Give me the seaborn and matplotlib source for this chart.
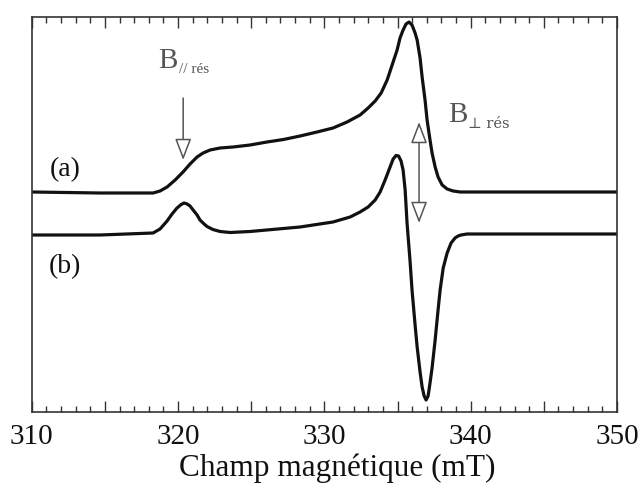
import matplotlib
matplotlib.use("Agg")
import matplotlib.pyplot as plt
import matplotlib.ticker as mticker
import seaborn as sns
import pandas as pd

# ---- data (field in mT, intensity in arbitrary units) ----
field_a = [310.0, 314.67, 317.74, 318.29, 318.77, 319.25, 319.80, 320.34, 320.82, 321.30,
           321.71, 322.19, 322.87, 323.76, 324.92, 326.08, 327.20, 328.34, 329.50, 330.59,
           331.55, 332.44, 332.99, 333.47, 333.88, 334.29, 334.63, 334.97, 335.17, 335.38,
           335.58, 335.79, 335.99, 336.20, 336.34, 336.54, 336.68, 336.88, 337.02, 337.22,
           337.36, 337.57, 337.77, 338.05, 338.39, 338.80, 339.28, 350.0]
signal_a = [220, 219, 219, 219, 221, 225, 232, 240, 248, 255,
            259, 262, 264, 265, 267, 270, 272.5, 276, 280, 284,
            290, 297, 304, 311, 319, 332, 347, 362, 374, 382,
            388, 390, 387, 379, 372, 354, 335, 312, 292, 272,
            259, 245, 235, 227, 223, 221, 220, 220]

field_b = [310.0, 314.67, 318.29, 318.77, 319.25, 319.59, 319.93, 320.21, 320.41, 320.62,
           320.82, 321.03, 321.30, 321.50, 321.78, 321.98, 322.38, 322.87, 323.55, 324.92,
           328.34, 330.59, 331.76, 332.44, 332.99, 333.47, 333.81, 334.15, 334.49, 334.70,
           334.90, 335.07, 335.24, 335.38, 335.52, 335.65, 335.86, 335.99, 336.20, 336.34,
           336.54, 336.68, 336.82, 336.95, 337.09, 337.22, 337.36, 337.57, 337.77, 337.91,
           338.12, 338.39, 338.66, 338.93, 339.14, 339.34, 339.75, 350.0]
signal_b = [177, 177, 179, 183, 191, 198, 204, 207.5, 209, 208,
            206, 202, 197, 192, 188, 185.5, 182.5, 180.5, 179.5, 180.5,
            185, 190, 195, 200, 205, 212, 220, 232, 245, 253,
            256.5, 256, 251, 242, 222, 189, 150, 122, 87, 65,
            40, 25, 16, 12, 16, 29, 44, 72, 102, 122,
            144, 159, 169, 174, 176, 177, 178, 178]

x_ticks = [310, 320, 330, 340, 350]
x_label = "Champ magnétique (mT)"

df_a = pd.DataFrame({"field": field_a, "signal": signal_a})
df_b = pd.DataFrame({"field": field_b, "signal": signal_b})

sns.set_theme(style="white")
plt.rcParams["font.family"] = ["Liberation Serif", "DejaVu Serif"]

fig = plt.figure(figsize=(6.41, 4.86), dpi=100)
ax = fig.add_axes([0.0495, 0.1523, 0.9131, 0.8127])

sns.lineplot(data=df_a, x="field", y="signal", ax=ax, color="#111111", lw=2.3,
             sort=False, estimator=None)
sns.lineplot(data=df_b, x="field", y="signal", ax=ax, color="#111111", lw=2.3,
             sort=False, estimator=None)
for ln in ax.lines:
    ln.set_solid_joinstyle("round")
    ln.set_solid_capstyle("round")

ax.set_xlim(310, 350)
ax.set_ylim(0, 395)
ax.set_yticks([])
ax.set_ylabel("")
ax.set_xlabel(x_label, fontsize=22.5, labelpad=4, color="#111111")
ax.xaxis.set_label_coords(0.522, -0.105)

ax.xaxis.set_major_locator(mticker.MultipleLocator(5))
ax.xaxis.set_minor_locator(mticker.MultipleLocator(1))
ax.xaxis.set_major_formatter(mticker.FuncFormatter(
    lambda v, p: f"{int(round(v))}" if int(round(v)) in x_ticks else ""))
ax.tick_params(axis="x", which="both", direction="in", top=True, bottom=True,
               color="#333333", labelsize=21, labelcolor="#111111", pad=9)
ax.tick_params(axis="x", which="major", length=8, width=1.0)
ax.tick_params(axis="x", which="minor", length=4, width=1.0)

for s in ax.spines.values():
    s.set_visible(True)
    s.set_color("#333333")
    s.set_linewidth(1.2)

# curve labels
ax.text(312.28, 242, "(a)", fontsize=20, ha="center", va="center", color="#111111")
ax.text(312.28, 145, "(b)", fontsize=20, ha="center", va="center", color="#111111")

# resonance labels
gray = "#555555"
ax.text(318.64, 344, "B", fontsize=21, ha="left", va="baseline", color=gray)
ax.text(320.08, 339, "// rés", fontsize=11, ha="left", va="baseline", color=gray)
ax.text(338.46, 290, "B", fontsize=21, ha="left", va="baseline", color=gray)
ax.text(339.82, 284, "⊥ rés", fontsize=10.5, ha="left", va="baseline", color=gray,
        family=["DejaVu Serif", "Liberation Serif"])

# arrows
ax.annotate("", xy=(320.35, 252), xytext=(320.35, 314),
            arrowprops=dict(arrowstyle="-|>,head_length=1.1,head_width=0.42",
                            fc="white", ec=gray, lw=1.1, shrinkA=0, shrinkB=0))
ax.annotate("", xy=(336.47, 189), xytext=(336.47, 290),
            arrowprops=dict(arrowstyle="<|-|>,head_length=1.1,head_width=0.42",
                            fc="white", ec=gray, lw=1.1, shrinkA=0, shrinkB=0))

fig.savefig("out.png", dpi=100)
